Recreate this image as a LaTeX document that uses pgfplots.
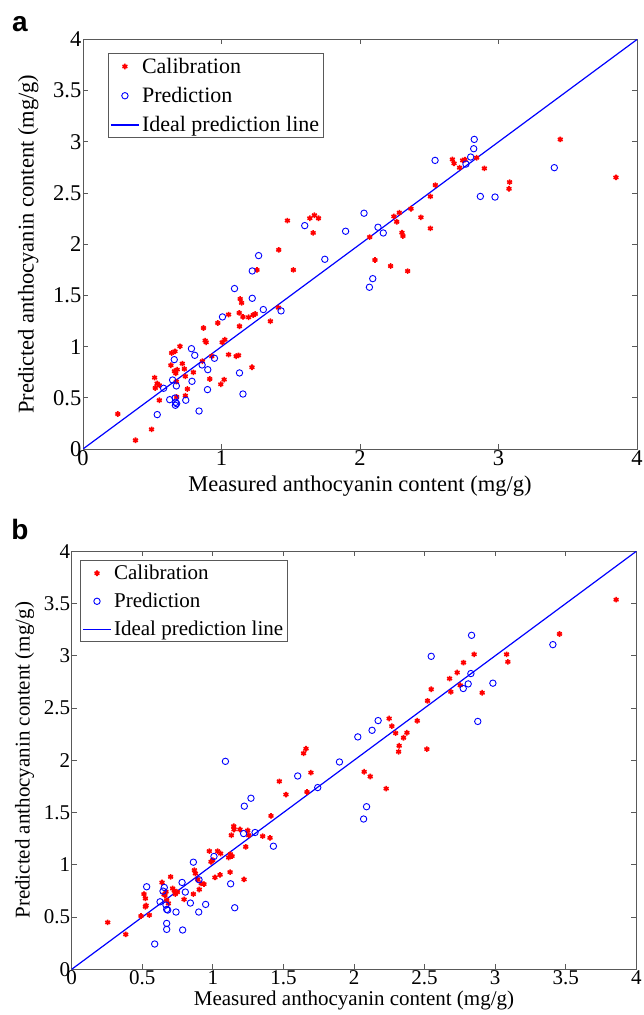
\documentclass[border=0pt]{standalone}
\usepackage{pgfplots}
\pgfplotsset{compat=1.18}
\usepackage{fontspec}
\setmainfont{Liberation Serif}
\newfontfamily\labelfont{Liberation Sans}

\pgfplotstableread{
x y
0.251 0.342
0.379 0.085
0.495 0.192
0.517 0.697
0.522 0.596
0.551 0.622
0.551 0.476
0.535 0.640
0.640 0.938
0.664 0.954
0.700 1.003
0.635 0.818
0.660 0.760
0.670 0.740
0.680 0.775
0.674 0.658
0.717 0.834
0.732 0.782
0.739 0.710
0.754 0.586
0.739 0.521
0.676 0.508
0.797 0.749
0.862 0.857
0.870 1.182
0.882 1.059
0.889 1.042
0.915 0.684
0.930 0.906
0.973 1.231
0.995 0.632
1.019 0.678
1.005 1.042
1.024 1.068
1.051 1.313
1.051 0.922
1.106 0.906
1.123 0.915
1.128 1.329
1.130 1.199
1.135 1.466
1.145 1.427
1.155 1.290
1.196 1.287
1.229 1.309
1.244 1.319
1.220 0.798
1.256 1.749
1.353 1.248
1.413 1.945
1.411 1.381
1.476 2.231
1.519 1.749
1.638 2.254
1.671 2.283
1.700 2.254
1.662 2.111
2.070 2.070
2.108 1.846
2.221 1.787
2.245 2.272
2.265 2.219
2.284 2.308
2.303 2.113
2.310 2.080
2.344 1.738
2.368 2.347
2.440 2.263
2.508 2.155
2.508 2.467
2.544 2.578
2.667 2.829
2.679 2.790
2.719 2.748
2.741 2.819
2.758 2.826
2.842 2.845
2.898 2.741
3.076 2.542
3.080 2.607
3.446 3.024
3.848 2.653
}\calA

\pgfplotstableread{
x y
0.536 0.336
0.582 0.593
0.626 0.482
0.647 0.674
0.659 0.873
0.674 0.616
0.665 0.498
0.669 0.456
0.676 0.443
0.667 0.427
0.742 0.476
0.783 0.980
0.787 0.661
0.807 0.915
0.838 0.371
0.860 0.821
0.901 0.775
0.899 0.580
0.949 0.886
1.007 1.290
1.094 1.567
1.130 0.743
1.155 0.537
1.222 1.739
1.222 1.472
1.268 1.889
1.302 1.362
1.430 1.349
1.601 2.182
1.746 1.853
1.896 2.127
2.029 2.303
2.130 2.166
2.168 2.110
2.068 1.580
2.092 1.664
2.542 2.819
2.765 2.783
2.799 2.852
2.821 2.933
2.825 3.024
2.869 2.467
2.975 2.461
3.403 2.748
}\preA

\pgfplotstableread{
x y
0.255 0.449
0.383 0.334
0.491 0.510
0.512 0.720
0.522 0.678
0.522 0.599
0.527 0.611
0.550 0.519
0.640 0.831
0.654 0.717
0.668 0.742
0.661 0.710
0.673 0.662
0.685 0.631
0.701 0.885
0.715 0.774
0.727 0.752
0.734 0.720
0.749 0.739
0.796 0.669
0.862 0.720
0.869 0.949
0.876 0.917
0.893 0.860
0.904 0.764
0.918 0.822
0.937 0.815
0.975 1.131
0.987 1.029
0.999 1.045
1.015 0.879
1.034 1.131
1.055 1.108
1.051 0.904
1.112 1.070
1.124 1.102
1.136 1.083
1.122 0.930
1.131 1.283
1.148 1.369
1.150 1.338
1.192 1.338
1.221 0.860
1.233 1.172
1.247 1.328
1.254 1.283
1.353 1.274
1.405 1.258
1.412 1.468
1.471 1.799
1.518 1.672
1.643 2.067
1.660 2.111
1.667 1.697
1.695 1.882
2.072 1.890
2.115 1.845
2.228 1.729
2.249 2.400
2.268 2.327
2.295 2.260
2.320 2.139
2.316 2.082
2.351 2.216
2.375 2.264
2.448 2.378
2.516 2.107
2.521 2.569
2.547 2.680
2.677 2.782
2.686 2.655
2.731 2.840
2.752 2.718
2.776 2.935
2.851 3.014
2.908 2.646
3.081 3.014
3.090 2.942
3.456 3.209
3.857 3.537
}\calB

\pgfplotstableread{
x y
0.531 0.790
0.588 0.242
0.626 0.646
0.647 0.748
0.656 0.783
0.668 0.615
0.673 0.573
0.680 0.567
0.673 0.439
0.673 0.382
0.739 0.548
0.782 0.831
0.786 0.376
0.805 0.739
0.841 0.634
0.862 1.025
0.902 0.857
0.900 0.548
0.949 0.621
1.008 1.080
1.089 1.990
1.126 0.818
1.155 0.589
1.223 1.561
1.270 1.637
1.218 1.299
1.299 1.309
1.429 1.178
1.601 1.850
1.743 1.739
1.897 1.984
2.027 2.224
2.128 2.287
2.171 2.380
2.068 1.438
2.089 1.556
2.547 2.995
2.774 2.687
2.809 2.731
2.828 2.830
2.833 3.196
2.877 2.372
2.984 2.738
3.409 3.107
}\preB

\pgfplotsset{
  mystyle/.style={
    scale only axis,
    xmin=0, xmax=4, ymin=0, ymax=4,
    axis line style={black!65, line width=0.8bp},
    tick style={black!65, line width=0.8bp},
    major tick length=5bp,
    tick align=inside,
    /pgf/number format/assume math mode=true,
    ytick={0,0.5,1,1.5,2,2.5,3,3.5,4},
    yticklabels={0,0.5,1,1.5,2,2.5,3,3.5,4},
    ylabel={Predicted anthocyanin content (mg/g)},
    xlabel={Measured anthocyanin content (mg/g)},
    yticklabel style={inner sep=1.5bp},
    xticklabel style={inner sep=1bp},
    xlabel style={inner sep=1bp},
    ylabel style={inner sep=2bp},
    legend cell align=left,
  },
  calst/.style={only marks, mark=asterisk, color=red, mark size=2.8bp, line width=1.6bp},
  prest/.style={only marks, mark=o, color=blue, mark size=3.2bp, line width=0.9bp},
  linest/.style={blue, line width=1.2bp, no marks,
    legend image code/.code={\draw[blue, line width=1.2bp] (0bp,0bp) -- (28bp,0bp);}},
  markleg/.style={legend image code/.code={\draw[mark repeat=2,mark phase=2,##1] plot coordinates {(0bp,0bp) (14bp,0bp) (28bp,0bp)};}},
}

\begin{document}
\begin{tikzpicture}
\path[use as bounding box] (0bp,0bp) rectangle (644bp,1015bp);

\node[font=\labelfont\bfseries\fontsize{28bp}{30bp}\selectfont] at (20bp,991bp) {a};
\node[font=\labelfont\bfseries\fontsize{28bp}{30bp}\selectfont] at (20bp,486bp) {b};

\begin{axis}[mystyle,
  at={(83bp,566bp)}, anchor=south west,
  width=554bp, height=409.5bp,
  xtick={0,1,2,3,4}, xticklabels={0,1,2,3,4},
  font=\rmfamily\fontsize{22.5bp}{25bp}\selectfont,
  tick label style={font=\rmfamily\fontsize{22.5bp}{25bp}\selectfont},
  xlabel style={yshift=-8bp},
  ylabel style={yshift=11bp},
  legend style={at={(rel axis cs:0.045,0.9665)}, anchor=north west, draw=black!65, line width=0.8bp,
    font=\rmfamily\fontsize{22bp}{24bp}\selectfont, inner sep=2bp, row sep=7.5bp, nodes={inner sep=2.5bp}},
]
\addplot[calst, markleg] table {\calA};
\addlegendentry{Calibration}
\addplot[prest, markleg] table {\preA};
\addlegendentry{Prediction}
\addplot[linest] coordinates {(0,0) (4,4)};
\addlegendentry{Ideal prediction line}
\end{axis}

\begin{axis}[mystyle,
  at={(71.7bp,45.7bp)}, anchor=south west,
  width=564.6bp, height=418bp,
  xtick={0,0.5,1,1.5,2,2.5,3,3.5,4}, xticklabels={0,0.5,1,1.5,2,2.5,3,3.5,4},
  font=\rmfamily\fontsize{21bp}{23bp}\selectfont,
  tick label style={font=\rmfamily\fontsize{21bp}{23bp}\selectfont},
  xlabel style={yshift=-4bp},
  ylabel style={yshift=6bp},
  legend style={at={(rel axis cs:0.0147,0.9785)}, anchor=north west, draw=black!65, line width=0.8bp,
    font=\rmfamily\fontsize{21bp}{23bp}\selectfont, inner sep=2bp, row sep=7bp, nodes={inner sep=2.5bp}},
]
\addplot[calst, markleg] table {\calB};
\addlegendentry{Calibration}
\addplot[prest, markleg] table {\preB};
\addlegendentry{Prediction}
\addplot[linest] coordinates {(0,0) (4,4)};
\addlegendentry{Ideal prediction line}
\end{axis}
\end{tikzpicture}
\end{document}
